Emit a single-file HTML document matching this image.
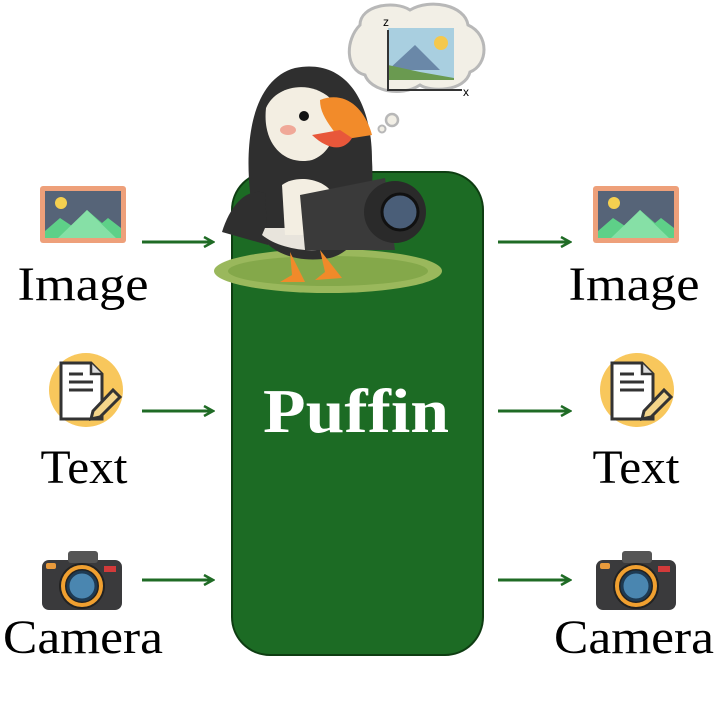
<!DOCTYPE html>
<html><head><style>body{margin:0;background:#fff}svg{display:block}</style></head><body>
<svg width="720" height="720" viewBox="0 0 720 720" xmlns="http://www.w3.org/2000/svg" font-family="Liberation Serif, serif">
<defs>
<marker id="ah" markerWidth="12" markerHeight="12" refX="10" refY="6" orient="auto" markerUnits="userSpaceOnUse"><path d="M1,1 L10,6 L1,11" fill="none" stroke="#1f6b25" stroke-width="2.5"/></marker>
<g id="img"><rect x="0" y="0" width="86" height="57" rx="3" fill="#eea07a"/><rect x="5" y="5" width="76" height="47" fill="#566478"/><circle cx="21" cy="17" r="6" fill="#f5d050"/><path d="M5,52 L5,45 L20,32 L32,40 L47,24 L62,37 L68,32 L81,42 L81,52Z" fill="#5ed088"/><path d="M18,52 L47,24 L76,52Z" fill="#86e0a6"/></g>
<g id="txt"><circle cx="0" cy="0" r="37" fill="#f8c75c"/><path d="M-25,-27 L5,-27 L16,-16 L16,29 L-25,29Z" fill="#fff" stroke="#333" stroke-width="3"/><path d="M5,-27 L5,-16 L16,-16" fill="#ddd" stroke="#333" stroke-width="2.5"/><path d="M-17,-16 L-3,-16 M-17,-8 L7,-8 M-17,0 L7,0" stroke="#333" stroke-width="3"/><path d="M7,21 L27,0 L34,7 L14,27 L5,29Z" fill="#f4d58a" stroke="#333" stroke-width="3"/></g>
<g id="cam"><rect x="-40" y="-22" width="80" height="50" rx="7" fill="#3a3a3c"/><rect x="-14" y="-31" width="30" height="12" rx="3" fill="#555"/><rect x="-36" y="-19" width="10" height="6" rx="2" fill="#e89a3c"/><rect x="22" y="-16" width="12" height="6" fill="#d23a3a"/><circle cx="0" cy="4" r="23" fill="#222"/><circle cx="0" cy="4" r="19" fill="none" stroke="#f0a030" stroke-width="4"/><circle cx="0" cy="4" r="14" fill="#4a86b0" stroke="#1e3a52" stroke-width="3"/></g>
</defs>
<rect x="232" y="172" width="251" height="483" rx="38" fill="#1c6b24" stroke="#0e3d12" stroke-width="2"/>
<text x="356" y="432" fill="#fff" font-weight="bold" font-size="62" text-anchor="middle" textLength="186" lengthAdjust="spacingAndGlyphs">Puffin</text>
<!-- puffin -->
<ellipse cx="328" cy="271" rx="114" ry="22" fill="#9ab85c"/>
<ellipse cx="328" cy="271" rx="100" ry="15" fill="#84a84a"/>
<path d="M255,225 C240,150 250,80 295,68 C345,58 372,100 372,160 C375,210 362,250 330,258 C295,264 265,252 255,225Z" fill="#2f2f2f"/>
<path d="M222,232 C232,200 250,188 265,193 L268,245Z" fill="#2f2f2f"/>
<path d="M262,235 C280,250 320,255 335,245 L330,228 L265,228Z" fill="#e8e4dc"/>
<path d="M266,108 C276,85 310,80 330,98 C342,120 335,152 312,160 C285,166 262,145 266,108Z" fill="#f3eee2"/>
<path d="M282,185 C295,175 320,178 330,190 L325,235 L285,235Z" fill="#f3eee2"/>
<circle cx="304" cy="116" r="5" fill="#111"/>
<ellipse cx="288" cy="130" rx="8" ry="5" fill="#f0a898"/>
<path d="M320,100 C345,90 365,108 372,135 L340,140 C330,125 320,115 320,100Z" fill="#f28b2a"/>
<path d="M312,135 C330,152 345,150 352,138 L340,130Z" fill="#e8573a"/>
<path d="M300,195 L385,178 L395,250 L305,250Z" fill="#3a3a3a"/>
<circle cx="395" cy="212" r="31" fill="#2a2a2a"/>
<circle cx="400" cy="212" r="18" fill="#4a5e78" stroke="#111" stroke-width="3"/>
<path d="M290,252 L292,275 L280,282 L305,282 Z M320,250 L325,272 L315,280 L342,278Z" fill="#f08a2a"/>
<path d="M360,25 C360,5 395,0 410,10 C430,-2 465,5 468,25 C490,35 488,65 470,72 C465,92 430,92 420,85 C400,98 370,90 365,75 C345,70 345,40 360,25Z" fill="#f2efe6" stroke="#b8b8b8" stroke-width="3"/>
<rect x="388" y="28" width="66" height="52" fill="#a9cfe0"/>
<circle cx="441" cy="43" r="7" fill="#f5c84c"/>
<path d="M388,70 L415,45 L440,70Z" fill="#6a88a8"/>
<path d="M388,80 L388,65 L420,72 L454,78 L454,80Z" fill="#6a9a50"/>
<path d="M388,30 L388,90 L462,90" fill="none" stroke="#333" stroke-width="2"/>
<text x="383" y="26" font-family="Liberation Sans, sans-serif" font-size="12">z</text>
<text x="463" y="96" font-family="Liberation Sans, sans-serif" font-size="12">x</text>
<circle cx="392" cy="120" r="6" fill="#f2efe6" stroke="#b8b8b8" stroke-width="2.5"/>
<circle cx="382" cy="129" r="3.5" fill="#f2efe6" stroke="#b8b8b8" stroke-width="2"/>
<!-- arrows -->
<g stroke="#1f6b25" stroke-width="3" marker-end="url(#ah)">
<line x1="142" y1="242" x2="213" y2="242"/><line x1="142" y1="411" x2="213" y2="411"/><line x1="142" y1="580" x2="213" y2="580"/>
<line x1="498" y1="242" x2="570" y2="242"/><line x1="498" y1="411" x2="570" y2="411"/><line x1="498" y1="580" x2="570" y2="580"/>
</g>
<use href="#img" x="40" y="186"/><use href="#img" x="593" y="186"/>
<use href="#txt" x="86" y="390"/><use href="#txt" x="637" y="390"/>
<use href="#cam" x="82" y="582"/><use href="#cam" x="636" y="582"/>
<g font-size="48" fill="#000" text-anchor="middle">
<text x="83" y="300" textLength="131" lengthAdjust="spacingAndGlyphs">Image</text>
<text x="634" y="300" textLength="131" lengthAdjust="spacingAndGlyphs">Image</text>
<text x="84" y="483" textLength="87" lengthAdjust="spacingAndGlyphs">Text</text>
<text x="636" y="483" textLength="87" lengthAdjust="spacingAndGlyphs">Text</text>
<text x="83" y="653" textLength="160" lengthAdjust="spacingAndGlyphs">Camera</text>
<text x="634" y="653" textLength="160" lengthAdjust="spacingAndGlyphs">Camera</text>
</g>
</svg>
</body></html>
